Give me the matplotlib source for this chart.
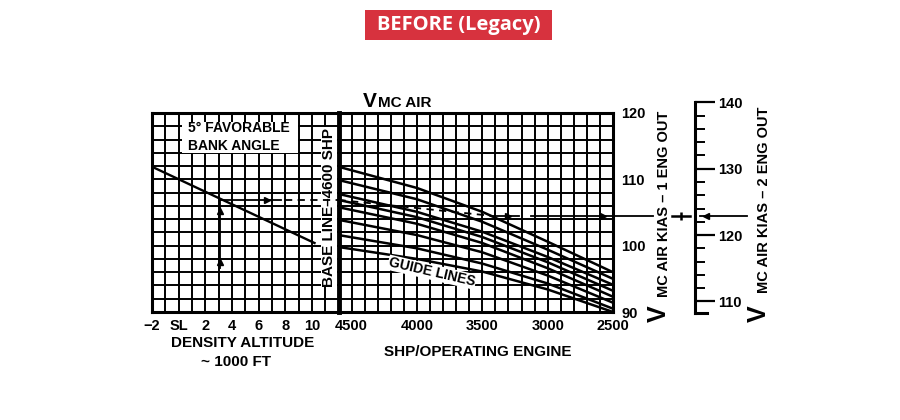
import matplotlib
matplotlib.use('Agg')
import matplotlib.pyplot as plt
from matplotlib.patches import Rectangle
from matplotlib.ticker import MultipleLocator

plt.rcParams['font.family'] = ['Liberation Sans', 'DejaVu Sans']
plt.rcParams['font.weight'] = 'bold'

# density altitude panel (1000 ft)
da_ticks = [-2, 0, 2, 4, 6, 8, 10]
da_labels = ['\u22122', 'SL', '2', '4', '6', '8', '10']
bank_da = [-2, 10.2]
bank_kias = [111.9, 100.4]

# shp panel
shp_ticks = [4500, 4000, 3500, 3000, 2500]
guide_shp = [4600, 4000, 3500, 3000, 2500]
guide_kias = [
    [111.9, 108.7, 105.1, 100.6, 96.0],
    [109.9, 107.0, 103.6, 99.4, 95.0],
    [107.8, 105.1, 102.1, 98.3, 94.1],
    [106.9, 104.3, 101.3, 97.5, 93.2],
    [105.8, 103.3, 100.4, 96.6, 92.3],
    [103.9, 101.6, 99.0, 95.5, 91.4],
    [101.6, 99.6, 97.3, 94.3, 90.5],
    [99.8, 98.0, 96.1, 93.4, 90.0],
]

# speed scales
kias1_ticks = [90, 100, 110, 120]
kias2_ticks = [110, 120, 130, 140]
eng2_offset = 18.4

# worked example
ex_da = 3.1
ex_kias_start = 96.6
ex_kias_base = 106.9
ex_turn_shp = 3430
ex_kias = 104.5

W, H = 900, 420
fig = plt.figure(figsize=(W / 100, H / 100), dpi=100)
fig.patch.set_facecolor('white')


def box(x0, y0, x1, y1):
    return [x0 / W, 1 - y1 / H, (x1 - x0) / W, (y1 - y0) / H]


def px(x, y):
    return x / W, 1 - y / H


grid_kw = dict(color='black', lw=1.4)

# left panel
ax_l = fig.add_axes(box(152, 113, 338.5, 312))
ax_l.set_xlim(-2, 12)
ax_l.set_ylim(90, 120)
ax_l.set_xticks(da_ticks)
ax_l.set_xticklabels(da_labels)
ax_l.xaxis.set_minor_locator(MultipleLocator(1))
ax_l.set_yticks([])
ax_l.yaxis.set_minor_locator(MultipleLocator(2))
ax_l.grid(which='both', **grid_kw)
ax_l.tick_params(which='both', length=0, labelsize=10.5, pad=5)
for s in ['left', 'top', 'bottom']:
    ax_l.spines[s].set_linewidth(2.2)
ax_l.spines['right'].set_visible(False)

ax_l.plot(bank_da, bank_kias, color='black', lw=1.7, zorder=3)

ax_l.add_patch(Rectangle((0.25, 114.0), 8.7, 4.7, fc='white', ec='none', zorder=2.5))
ax_l.text(0.7, 116.35, '5\u00b0 FAVORABLE\nBANK ANGLE', fontsize=10, ha='left',
          va='center', linespacing=1.35, zorder=4)

ax_l.text(11.3, 105.8, 'BASE LINE\u20134600 SHP', rotation=90, fontsize=11,
          ha='center', va='center', zorder=4,
          bbox=dict(fc='white', ec='none', pad=0.5))

# worked example, left panel
ax_l.plot([ex_da, ex_da], [ex_kias_start, ex_kias_base], color='black', lw=1.3, zorder=3)
ax_l.plot([ex_da, ex_da], [97.6, 105.3], ls='none', marker='^', ms=5, color='black', zorder=3)
ax_l.plot([ex_da, 7.7], [ex_kias_base] * 2, color='black', lw=1.3, zorder=3)
ax_l.plot([6.6], [ex_kias_base], ls='none', marker='>', ms=5, color='black', zorder=3)
ax_l.plot([8.0, 12], [ex_kias_base] * 2, color='black', lw=1.3, ls=(0, (4, 3)), zorder=5)

# right panel
ax_r = fig.add_axes(box(338.5, 113, 613, 312))
ax_r.set_xlim(4600, 2500)
ax_r.set_ylim(90, 120)
ax_r.set_xticks(shp_ticks)
ax_r.xaxis.set_minor_locator(MultipleLocator(100))
ax_r.yaxis.tick_right()
ax_r.set_yticks(kias1_ticks)
ax_r.yaxis.set_minor_locator(MultipleLocator(2))
ax_r.grid(which='both', **grid_kw)
ax_r.tick_params(which='both', length=0, labelsize=10.5, pad=5)
ax_r.tick_params(axis='y', pad=6)
for s in ['right', 'top', 'bottom']:
    ax_r.spines[s].set_linewidth(2.2)
ax_r.spines['left'].set_linewidth(3.5)

for kias in guide_kias:
    ax_r.plot(guide_shp, kias, color='black', lw=1.8, zorder=3)

ax_r.text(3885, 96.0, 'GUIDE LINES', rotation=-13, fontsize=10, ha='center',
          va='center', zorder=4, bbox=dict(fc='white', ec='none', pad=0.5))

# worked example, right panel
ax_r.plot([4600, ex_turn_shp], [ex_kias_base, ex_kias], color='black', lw=1.3,
          ls=(0, (4, 3)), zorder=5)
ax_r.plot([ex_turn_shp, 3220], [ex_kias] * 2, color='black', lw=1.3, zorder=5)
ax_r.plot([3300], [ex_kias], ls='none', marker='>', ms=5, color='black', zorder=5)
ax_r.plot([3130, 2195], [ex_kias] * 2, color='black', lw=1.3, zorder=5, clip_on=False)
ax_r.plot([2576], [ex_kias], ls='none', marker='>', ms=5, color='black', zorder=5,
          clip_on=False)
ax_r.plot([2050, 1910], [ex_kias] * 2, color='black', lw=1.8, zorder=5, clip_on=False)
ax_r.plot([1980], [ex_kias], ls='none', marker='|', ms=5.5, mew=1.8, color='black',
          zorder=5, clip_on=False)
ax_r.plot([1836, 1477], [ex_kias] * 2, color='black', lw=1.3, zorder=5, clip_on=False)
ax_r.plot([1790], [ex_kias], ls='none', marker='<', ms=4, color='black', zorder=5,
          clip_on=False)

# two engine scale
ax_2 = fig.add_axes(box(695, 102.4, 715, 313))
ax_2.set_xlim(0, 1)
ax_2.set_ylim(90 + eng2_offset - 0.15, 121.6 + eng2_offset)
ax_2.patch.set_visible(False)
ax_2.set_xticks([])
ax_2.set_yticks(kias2_ticks)
ax_2.yaxis.set_minor_locator(MultipleLocator(2))
ax_2.tick_params(axis='y', which='major', direction='in', length=14.4, width=1.6,
                 left=True, right=False, labelleft=False, labelright=True,
                 labelsize=10.5, pad=2)
ax_2.tick_params(axis='y', which='minor', direction='in', length=7.2, width=1.4,
                 left=True, right=False)
ax_2.spines['left'].set_linewidth(2.2)
ax_2.spines['right'].set_visible(False)
ax_2.spines['top'].set_visible(False)
ax_2.spines['bottom'].set_linewidth(2.2)
ax_2.spines['bottom'].set_bounds(0, 0.6)

# labels
fig.text(*px(363, 107), 'V', fontsize=15, ha='left', va='baseline')
fig.text(*px(378, 107), 'MC AIR', fontsize=11, ha='left', va='baseline')

fig.text(*px(243, 343), 'DENSITY ALTITUDE', fontsize=11, ha='center', va='center')
fig.text(*px(236, 362), '~ 1000 FT', fontsize=11, ha='center', va='center')
fig.text(*px(478, 352), 'SHP/OPERATING ENGINE', fontsize=11, ha='center', va='center')

fig.text(*px(666, 322), 'V', fontsize=18, rotation=90, rotation_mode='anchor',
         ha='left', va='baseline')
fig.text(*px(668, 297), 'MC AIR KIAS \u2013 1 ENG OUT', fontsize=10.5, rotation=90,
         rotation_mode='anchor', ha='left', va='baseline')
fig.text(*px(766, 322), 'V', fontsize=18, rotation=90, rotation_mode='anchor',
         ha='left', va='baseline')
fig.text(*px(768, 293), 'MC AIR KIAS \u2013 2 ENG OUT', fontsize=10.5, rotation=90,
         rotation_mode='anchor', ha='left', va='baseline')

# header tag
fig.patches.append(Rectangle(px(365, 40), 187 / W, 30 / H, transform=fig.transFigure,
                             fc='#d7323e', ec='none'))
fig.text(*px(458.5, 25), 'BEFORE (Legacy)', fontsize=14.5, color='white',
         family=['Open Sans', 'DejaVu Sans'], weight='bold', ha='center', va='center')

fig.savefig('out.png', dpi=100)
